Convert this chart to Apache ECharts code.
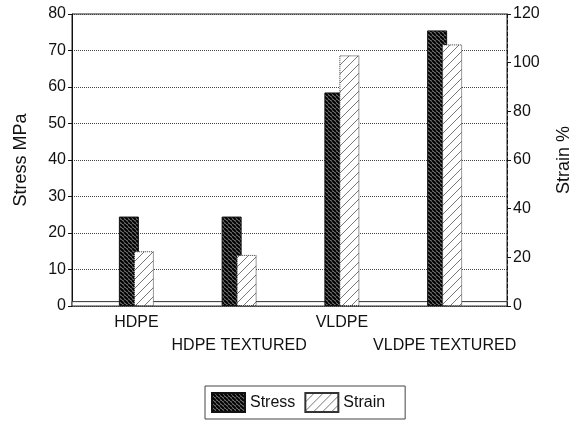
<!DOCTYPE html>
<html>
<head>
<meta charset="utf-8">
<script src="https://cdn.jsdelivr.net/npm/echarts@6/dist/echarts.min.js"></script>
<style>
  html, body { margin: 0; padding: 0; background: #fff; }
  #chart { width: 581px; height: 426px; }
</style>
</head>
<body>
<div id="chart"></div>
<script>
var categories = ['HDPE', 'HDPE TEXTURED', 'VLDPE', 'VLDPE TEXTURED'];
var stress = [24.5, 24.5, 58.5, 75.5];   // MPa, left axis
var strain = [22.5, 21, 103, 107.5];     // %, right axis

// hatch tiles
function hatch(size, bg, fg, lw, back) {
  var c = document.createElement('canvas');
  c.width = size; c.height = size;
  var g = c.getContext('2d');
  g.fillStyle = bg;
  g.fillRect(0, 0, size, size);
  g.strokeStyle = fg;
  g.lineWidth = lw;
  g.beginPath();
  for (var k = -1; k <= 1; k++) {
    if (back) { // "\" direction
      g.moveTo(k * size, 0); g.lineTo(k * size + size, size);
    } else {    // "/" direction
      g.moveTo(k * size, size); g.lineTo(k * size + size, 0);
    }
  }
  g.stroke();
  return c;
}
var stressImg = hatch(4, '#7a7a7a', '#000', 2, true);
var strainImg = hatch(9, '#ffffff', '#666', 0.9, false);

var chart = echarts.init(document.getElementById('chart'));
var font = 'Liberation Sans, Arial, sans-serif';
var lbl = { color: '#111', fontSize: 16, fontFamily: font };

var option = {
  animation: false,
  backgroundColor: '#fff',
  grid: [
    { left: 72, right: 72, top: 14, bottom: 120, show: true, borderColor: '#222', borderWidth: 1 },
    { left: 85, right: 85, top: 14, bottom: 120 }
  ],
  legend: {
    left: 205,
    top: 386,
    icon: 'rect',
    itemWidth: 33,
    itemHeight: 19,
    itemGap: 9,
    padding: [6, 20, 6, 6],
    borderColor: '#444',
    borderWidth: 1,
    data: ['Stress', 'Strain'],
    textStyle: { color: '#111', fontSize: 16, fontFamily: font }
  },
  xAxis: [
    { gridIndex: 0, type: 'value', min: 0, max: 1, show: false },
    {
      gridIndex: 1, type: 'category', data: categories,
      axisLine: { show: false }, axisTick: { show: false },
      axisLabel: Object.assign({
        margin: 5, lineHeight: 23, interval: 0,
        formatter: function (v, i) { return i % 2 ? '\n' + v : v; }
      }, lbl)
    }
  ],
  yAxis: [
    {
      gridIndex: 0, type: 'value', min: 0, max: 80, interval: 10,
      name: 'Stress MPa', nameLocation: 'middle', nameGap: 42, nameRotate: 90,
      nameTextStyle: { color: '#111', fontSize: 18, fontFamily: font },
      axisLine: { show: true, lineStyle: { color: '#111' } },
      axisTick: { show: true, length: 4, lineStyle: { color: '#111' } },
      axisLabel: Object.assign({ margin: 6 }, lbl),
      splitLine: { show: true, lineStyle: { color: '#444', type: 'dotted' } }
    },
    {
      gridIndex: 0, type: 'value', min: 0, max: 120, interval: 20, position: 'right',
      name: 'Strain %', nameLocation: 'middle', nameGap: 48, nameRotate: 90,
      nameTextStyle: { color: '#111', fontSize: 18, fontFamily: font },
      axisLine: { show: true, lineStyle: { color: '#111', type: 'dashed' } },
      axisTick: { show: true, length: 4, lineStyle: { color: '#111' } },
      axisLabel: Object.assign({ margin: 6 }, lbl),
      splitLine: { show: false }
    },
    { gridIndex: 1, type: 'value', min: 0, max: 80, show: false },
    { gridIndex: 1, type: 'value', min: 0, max: 120, show: false }
  ],
  series: [
    {
      // thin floor slab along the base
      type: 'line', xAxisIndex: 0, yAxisIndex: 0, data: [], z: 1,
      silent: true,
      markArea: {
        silent: true,
        itemStyle: { color: '#fff', borderColor: '#333', borderWidth: 1 },
        data: [[{ yAxis: 0 }, { yAxis: 1.2 }]]
      }
    },
    {
      name: 'Stress', type: 'bar', xAxisIndex: 1, yAxisIndex: 2,
      data: stress, barWidth: 20, barGap: '-25%', z: 3,
      itemStyle: { color: { image: stressImg, repeat: 'repeat' }, borderColor: '#111', borderWidth: 1 }
    },
    {
      name: 'Strain', type: 'bar', xAxisIndex: 1, yAxisIndex: 3,
      data: strain, barWidth: 20, z: 4,
      itemStyle: { color: { image: strainImg, repeat: 'repeat' }, borderColor: '#333', borderWidth: 1, borderType: 'dotted' }
    }
  ]
};
chart.setOption(option);
</script>
</body>
</html>
